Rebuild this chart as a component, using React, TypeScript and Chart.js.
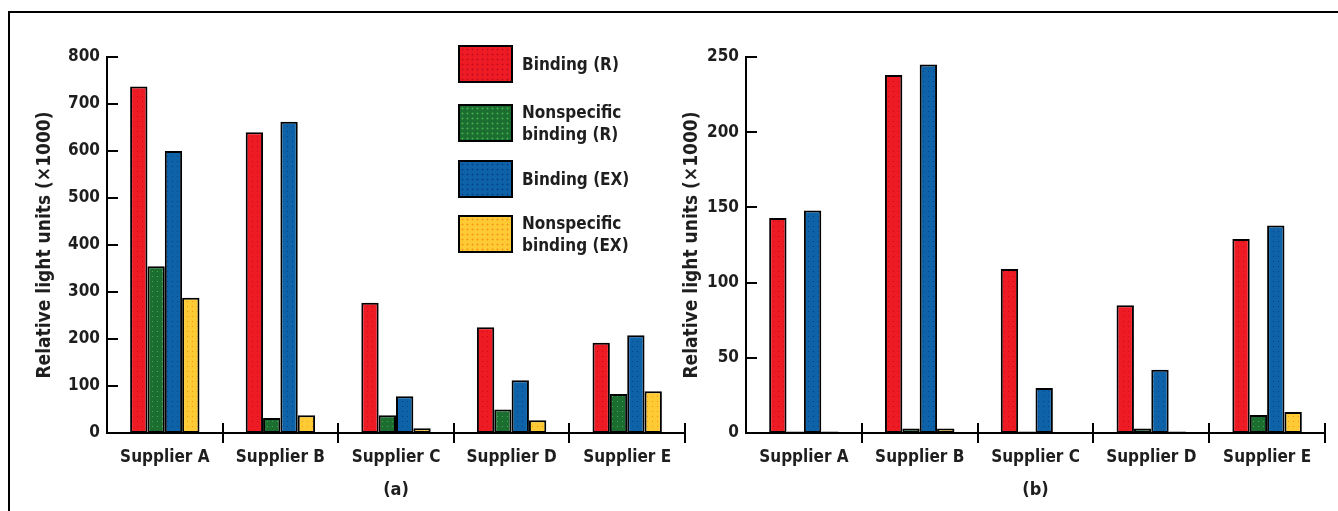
import React, { useEffect, useRef } from 'react';
import { Chart, registerables } from 'chart.js';

Chart.register(...registerables);

// ---------- data ----------
const categories = ['Supplier A', 'Supplier B', 'Supplier C', 'Supplier D', 'Supplier E'];
const seriesNames = ['Binding (R)', 'Nonspecific binding (R)', 'Binding (EX)', 'Nonspecific binding (EX)'];
const legendLines = [['Binding (R)'], ['Nonspecific', 'binding (R)'], ['Binding (EX)'], ['Nonspecific', 'binding (EX)']];

// panel (a)
const aBindingR = [737, 640, 277, 225, 192];
const aNonspecR = [355, 32, 38, 50, 83];
const aBindingEX = [600, 662, 78, 112, 208];
const aNonspecEX = [288, 38, 10, 27, 89];

// panel (b)
const bBindingR = [143, 238, 109, 85, 129];
const bNonspecR = [1, 3, 1, 3, 12];
const bBindingEX = [148, 245, 30, 42, 138];
const bNonspecEX = [1, 3, 0, 1, 14];

const aMax = 800;
const aStep = 100;
const bMax = 250;
const bStep = 50;
const yTitle = 'Relative light units (\u00d71000)';
const panelTitles = ['(a)', '(b)'];

// ---------- styles ----------
const FONT = "'Liberation Sans Narrow', 'DejaVu Sans Condensed', 'Arial Narrow', sans-serif";
const TEXT = '#1e1e1e';
const baseColors = ['#ee1b24', '#1b6d30', '#0e63a8', '#ffcb34'];
const dotColors = ['#c40d1e', '#3fae4a', '#06418e', '#f7941d'];

function makePattern(base: string, dot: string): CanvasPattern | string {
  const c = document.createElement('canvas');
  c.width = 5;
  c.height = 5;
  const g = c.getContext('2d');
  if (!g) return base;
  g.fillStyle = base;
  g.fillRect(0, 0, 5, 5);
  g.fillStyle = dot;
  g.fillRect(2, 2, 1, 1);
  return g.createPattern(c, 'repeat') || base;
}

const axisDecor = {
  id: 'axisDecor',
  afterDraw(chart: any) {
    const { ctx, chartArea, scales } = chart;
    const x = scales.x;
    const y = scales.y;
    ctx.save();
    ctx.strokeStyle = '#000';
    ctx.lineWidth = 2;
    y.ticks.forEach((_t: any, i: number) => {
      const py = Math.round(y.getPixelForTick(i));
      if (i === 0) return;
      ctx.beginPath();
      ctx.moveTo(chartArea.left, py);
      ctx.lineTo(chartArea.left + 11, py);
      ctx.stroke();
    });
    const n = x.ticks.length;
    for (let i = 0; i < n; i++) {
      const px = i < n - 1 ? (x.getPixelForTick(i) + x.getPixelForTick(i + 1)) / 2 : chartArea.right;
      ctx.beginPath();
      ctx.moveTo(Math.round(px), chartArea.bottom - 10);
      ctx.lineTo(Math.round(px), chartArea.bottom + 10);
      ctx.stroke();
    }
    ctx.restore();
  },
};

type PanelProps = {
  series: number[][];
  max: number;
  step: number;
  title: string;
  yAxisWidth: number;
  yTitlePad: number;
  padRight: number;
  width: number;
  height: number;
};

function Panel(props: PanelProps) {
  const ref = useRef<HTMLCanvasElement | null>(null);
  useEffect(() => {
    if (!ref.current) return;
    const patterns = baseColors.map((b, i) => makePattern(b, dotColors[i]));
    const chart = new Chart(ref.current, {
      type: 'bar',
      data: {
        labels: categories,
        datasets: props.series.map((d, i) => ({
          label: seriesNames[i],
          data: d,
          backgroundColor: patterns[i] as any,
          borderColor: '#000',
          borderWidth: 2,
          borderSkipped: false,
          categoryPercentage: 0.6,
          barPercentage: 1,
        })),
      },
      options: {
        animation: false,
        responsive: false,
        layout: { padding: { top: 43, right: props.padRight, left: 0, bottom: 0 } },
        plugins: { legend: { display: false }, tooltip: { enabled: false } },
        scales: {
          x: {
            grid: { display: false },
            border: { display: true, color: '#000', width: 2 },
            ticks: { color: TEXT, padding: 6, font: { family: FONT, size: 17, weight: 'bold' } },
            title: {
              display: true,
              text: props.title,
              color: TEXT,
              padding: { top: 0, bottom: 7 },
              font: { family: FONT, size: 18, weight: 'bold' },
            },
            afterFit: (s: any) => {
              s.height = 75;
            },
          },
          y: {
            min: 0,
            max: props.max,
            grid: { display: false, drawTicks: false },
            border: { display: true, color: '#000', width: 2 },
            ticks: {
              stepSize: props.step,
              color: TEXT,
              padding: 7,
              font: { family: FONT, size: 17, weight: 'bold' },
            },
            title: {
              display: true,
              text: yTitle,
              color: TEXT,
              padding: { top: props.yTitlePad, bottom: 0 },
              font: { family: FONT, size: 19, weight: 'bold' },
            },
            afterFit: (s: any) => {
              s.width = props.yAxisWidth;
            },
          },
        },
      },
      plugins: [axisDecor],
    });
    return () => chart.destroy();
  }, []);
  return <canvas ref={ref} width={props.width} height={props.height} style={{ width: props.width, height: props.height, display: 'block' }} />;
}

function LegendBox({ i }: { i: number }) {
  return (
    <div
      style={{
        width: 51,
        height: 34,
        border: '2px solid #000',
        backgroundColor: baseColors[i],
        backgroundImage: `radial-gradient(circle, ${dotColors[i]} 0.8px, transparent 1.2px)`,
        backgroundSize: '5px 5px',
      }}
    />
  );
}

export default function App() {
  const legendTops = [45, 104, 160, 215];
  return (
    <div style={{ position: 'fixed', left: 0, top: 0, width: 1338, height: 511, background: '#fff', overflow: 'hidden' }}>
      <div
        style={{
          position: 'absolute',
          left: 8,
          top: 11,
          width: 1340,
          height: 510,
          borderLeft: '2px solid #000',
          borderTop: '2px solid #000',
        }}
      />
      <div style={{ position: 'absolute', left: 10, top: 14 }}>
        <Panel
          series={[aBindingR, aNonspecR, aBindingEX, aNonspecEX]}
          max={aMax}
          step={aStep}
          title={panelTitles[0]}
          yAxisWidth={97}
          yTitlePad={24}
          padRight={18}
          width={693}
          height={494}
        />
      </div>
      <div style={{ position: 'absolute', left: 676, top: 14 }}>
        <Panel
          series={[bBindingR, bNonspecR, bBindingEX, bNonspecEX]}
          max={bMax}
          step={bStep}
          title={panelTitles[1]}
          yAxisWidth={70}
          yTitlePad={5}
          padRight={11}
          width={660}
          height={494}
        />
      </div>
      {legendLines.map((lines, i) => (
        <div
          key={i}
          style={{ position: 'absolute', left: 458, top: legendTops[i], display: 'flex', alignItems: 'center', height: 38 }}
        >
          <LegendBox i={i} />
          <div
            style={{
              marginLeft: 9,
              fontFamily: FONT,
              fontWeight: 'bold',
              fontSize: 17,
              lineHeight: '22px',
              color: TEXT,
              whiteSpace: 'nowrap',
            }}
          >
            {lines.map((l, k) => (
              <div key={k}>{l}</div>
            ))}
          </div>
        </div>
      ))}
    </div>
  );
}
